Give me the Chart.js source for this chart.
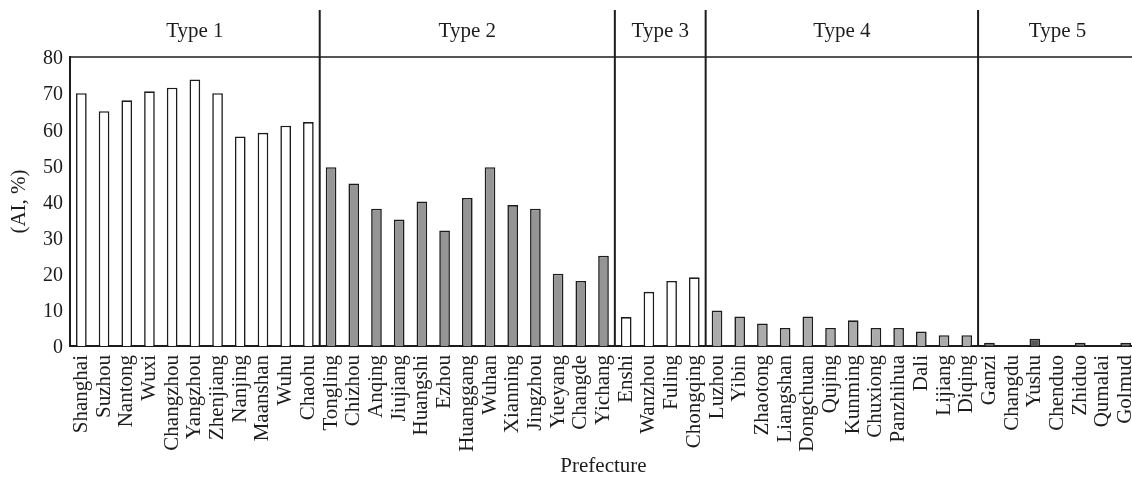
<!DOCTYPE html>
<html>
<head>
<meta charset="utf-8">
<script src="https://cdn.jsdelivr.net/npm/chart.js@4/dist/chart.umd.min.js"></script>
<style>
  html, body { margin: 0; padding: 0; background: #fff; overflow: hidden; }
  #wrap { position: relative; width: 1140px; height: 484px; }
</style>
</head>
<body>
<div id="wrap"><canvas id="c"></canvas></div>
<script>
// ---- data ----
const categories = [
  "Shanghai","Suzhou","Nantong","Wuxi","Changzhou","Yangzhou","Zhenjiang","Nanjing","Maanshan","Wuhu","Chaohu",
  "Tongling","Chizhou","Anqing","Jiujiang","Huangshi","Ezhou","Huanggang","Wuhan","Xianning","Jingzhou","Yueyang","Changde","Yichang",
  "Enshi","Wanzhou","Fuling","Chongqing",
  "Luzhou","Yibin","Zhaotong","Liangshan","Dongchuan","Qujing","Kunming","Chuxiong","Panzhihua","Dali","Lijiang","Diqing",
  "Ganzi","Changdu","Yushu","Chenduo","Zhiduo","Qumalai","Golmud"
];
const aiValues = [
  70, 65, 68, 70.5, 71.5, 73.8, 70, 58, 59, 61, 62,
  49.5, 45, 38, 35, 40, 32, 41, 49.5, 39, 38, 20, 18, 25,
  8, 15, 18, 19,
  9.8, 8.2, 6.2, 5, 8.2, 5, 7.1, 5, 5, 4, 3, 3,
  0.9, 0, 2, 0, 0.9, 0, 0.9
];
const typeOf = [
  0,0,0,0,0,0,0,0,0,0,0,
  1,1,1,1,1,1,1,1,1,1,1,1,1,
  2,2,2,2,
  3,3,3,3,3,3,3,3,3,3,3,3,
  4,4,4,4,4,4,4
];
const typeNames = ["Type 1","Type 2","Type 3","Type 4","Type 5"];
const typeColors = ["#ffffff","#959595","#ffffff","#ababab","#575757"];
const yTicks = [0,10,20,30,40,50,60,70,80];

const FONT = "'Liberation Serif', 'Times New Roman', serif";
const INK = "#1c1c1c";
Chart.defaults.font.family = FONT;
Chart.defaults.color = INK;

const groupsPlugin = {
  id: 'groups',
  afterDraw(chart) {
    const ctx = chart.ctx;
    const ca = chart.chartArea;
    const xs = chart.scales.x;
    ctx.save();
    // top frame line
    ctx.strokeStyle = INK;
    ctx.lineWidth = 1.6;
    ctx.beginPath();
    ctx.moveTo(ca.left, ca.top);
    ctx.lineTo(ca.right, ca.top);
    ctx.stroke();
    // separators between types
    const bounds = [ca.left];
    for (let i = 1; i < typeOf.length; i++) {
      if (typeOf[i] !== typeOf[i-1]) {
        const x = (xs.getPixelForValue(i-1) + xs.getPixelForValue(i)) / 2;
        bounds.push(x);
        ctx.lineWidth = 2;
        ctx.beginPath();
        ctx.moveTo(x, 10);
        ctx.lineTo(x, ca.bottom);
        ctx.stroke();
      }
    }
    bounds.push(ca.right);
    // type headers
    ctx.fillStyle = INK;
    ctx.font = "21px " + FONT;
    ctx.textAlign = 'center';
    ctx.textBaseline = 'alphabetic';
    for (let g = 0; g < typeNames.length; g++) {
      const cx = (bounds[g] + bounds[g+1]) / 2;
      ctx.fillText(typeNames[g], cx, 37);
    }
    ctx.restore();
  }
};

new Chart(document.getElementById('c'), {
  type: 'bar',
  data: {
    labels: categories,
    datasets: [{
      data: aiValues,
      backgroundColor: typeOf.map(t => typeColors[t]),
      borderColor: INK,
      borderWidth: 1.6,
      borderSkipped: 'start',
      barPercentage: 0.47,
      categoryPercentage: 1.0
    }]
  },
  options: {
    responsive: true,
    maintainAspectRatio: false,
    animation: false,
    layout: { padding: { top: 57, right: 3, left: 0, bottom: 0 } },
    plugins: { legend: { display: false }, tooltip: { enabled: false } },
    scales: {
      x: {
        grid: { display: false, drawTicks: false },
        border: { display: true, color: INK, width: 2 },
        ticks: {
          autoSkip: false, maxRotation: 90, minRotation: 90,
          font: { size: 21, family: FONT }, color: INK, padding: 9
        },
        title: { display: true, text: 'Prefecture', font: { size: 21, family: FONT }, color: INK, padding: { top: 0, bottom: 5 } },
        afterFit(scale) { scale.height = 138; scale.paddingLeft = 0; scale.paddingRight = 0; }
      },
      y: {
        min: 0, max: 80,
        grid: { display: false, drawTicks: false },
        border: { display: true, color: INK, width: 2 },
        afterBuildTicks(scale) { scale.ticks = yTicks.map(v => ({ value: v })); },
        ticks: { font: { size: 20, family: FONT }, color: INK, padding: 7, labelOffset: 2 },
        title: { display: true, text: '(AI, %)', font: { size: 21, family: FONT }, color: INK, padding: { top: 7, bottom: 0 } },
        afterFit(scale) { scale.width = 70; }
      }
    }
  },
  plugins: [groupsPlugin]
});
</script>
</body>
</html>
